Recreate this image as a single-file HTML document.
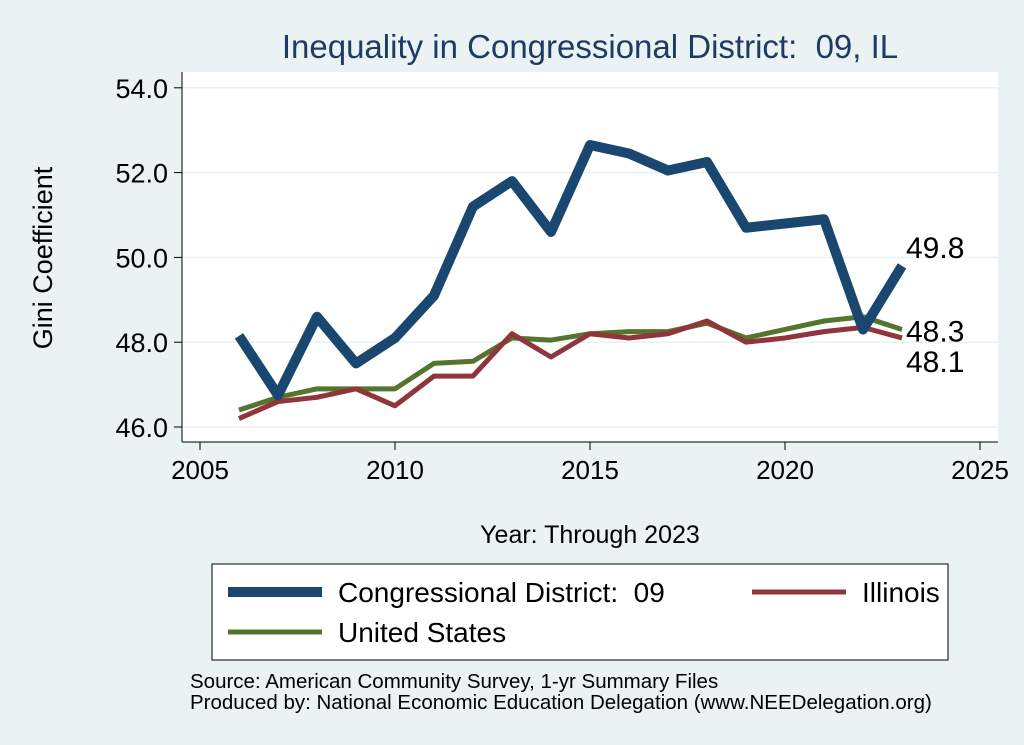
<!DOCTYPE html>
<html><head><meta charset="utf-8"><style>
body{margin:0;background:#eaf2f3;}
svg{display:block;font-family:"Liberation Sans",sans-serif;}
text{white-space:pre;}
</style></head><body>
<svg id="c" width="1024" height="745">
<rect x="0" y="0" width="1024" height="745" fill="#eaf2f3"/>
<rect x="182" y="72" width="816" height="370" fill="#ffffff"/>
<text x="590" y="58" font-size="33" fill="#1f3a63" text-anchor="middle">Inequality in Congressional District:  09, IL</text>
<text transform="translate(52,258) rotate(-90)" font-size="27" text-anchor="middle" fill="#000">Gini Coefficient</text>
<text x="590" y="543" font-size="25" text-anchor="middle" fill="#000">Year: Through 2023</text>
<g id="grid"></g><g id="axes"></g><g id="lines"></g>
<rect x="212" y="564" width="736" height="96" fill="#fff" stroke="#000" stroke-width="1"/>
<g><line x1="228" y1="592" x2="322" y2="592" stroke="#1a476f" stroke-width="10"/><text x="338" y="602" font-size="28">Congressional District:  09</text></g>
<g><line x1="752" y1="592" x2="846" y2="592" stroke="#90353b" stroke-width="5"/><text x="862" y="602" font-size="28">Illinois</text></g>
<g><line x1="228" y1="632" x2="322" y2="632" stroke="#55752f" stroke-width="5"/><text x="338" y="642" font-size="28">United States</text></g>
<text x="190" y="688" font-size="20.5">Source: American Community Survey, 1-yr Summary Files</text>
<text x="190" y="709" font-size="20.5">Produced by: National Economic Education Delegation (www.NEEDelegation.org)</text>
</svg>
<script>
const years=[2006,2007,2008,2009,2010,2011,2012,2013,2014,2015,2016,2017,2018,2019,2020,2021,2022,2023];
const district=[48.15,46.75,48.6,47.5,48.1,49.1,51.2,51.8,50.6,52.65,52.45,52.05,52.25,50.7,50.8,50.9,48.3,49.8];
const illinois=[46.2,46.6,46.7,46.9,46.5,47.2,47.2,48.2,47.65,48.2,48.1,48.2,48.5,48.0,48.1,48.25,48.35,48.1];
const us=[46.4,46.7,46.9,46.9,46.9,47.5,47.55,48.1,48.05,48.2,48.25,48.25,48.45,48.1,48.3,48.5,48.6,48.3];
const xTicks=[2005,2010,2015,2020,2025];
const yTicks=[46,48,50,52,54];
const xs=v=>200+(v-2005)*39;
const ys=v=>427-(v-46)*42.4;
const NS="http://www.w3.org/2000/svg";
function mk(t,a,p){const e=document.createElementNS(NS,t);for(const k in a)e.setAttribute(k,a[k]);p.appendChild(e);return e;}
const grid=document.getElementById('grid'),axes=document.getElementById('axes'),lines=document.getElementById('lines');
mk('line',{x1:182,y1:72,x2:182,y2:442,stroke:'#000','stroke-width':1},axes);
mk('line',{x1:182,y1:442,x2:998,y2:442,stroke:'#000','stroke-width':1},axes);
yTicks.forEach(v=>{
 const g=mk('line',{x1:182,x2:998,y1:ys(v),y2:ys(v),stroke:'#eaf2f3','stroke-width':1.5},grid);
 
 mk('line',{x1:174,x2:182,y1:ys(v),y2:ys(v),stroke:'#000'},axes);
 const t=mk('text',{x:168,y:ys(v)+10,'font-size':27,'text-anchor':'end'},axes);t.textContent=v.toFixed(1);
 
});
xTicks.forEach(v=>{
 mk('line',{x1:xs(v),x2:xs(v),y1:442,y2:450,stroke:'#000'},axes);
 const t=mk('text',{x:xs(v),y:479,'font-size':26,'text-anchor':'middle'},axes);t.textContent=v;
 
});
function draw(arr,col,w,name){
 const p=mk('polyline',{points:years.map((y,i)=>xs(y)+','+ys(arr[i])).join(' '),fill:'none',stroke:col,'stroke-width':w,'stroke-linejoin':'round'},lines);
 
}
draw(us,'#55752f',5,'line-united-states');
draw(illinois,'#90353b',5,'line-illinois');
draw(district,'#1a476f',10,'line-district');
const n=years.length-1;
[[district[n],-8,'label-district'],[us[n],12,'label-united-states'],[illinois[n],34,'label-illinois']].forEach(([v,dy,nm])=>{
 const t=mk('text',{x:xs(years[n])+4,y:ys(v)+dy,'font-size':30},lines);t.textContent=v.toFixed(1);
 
});
</script>
</body></html>
